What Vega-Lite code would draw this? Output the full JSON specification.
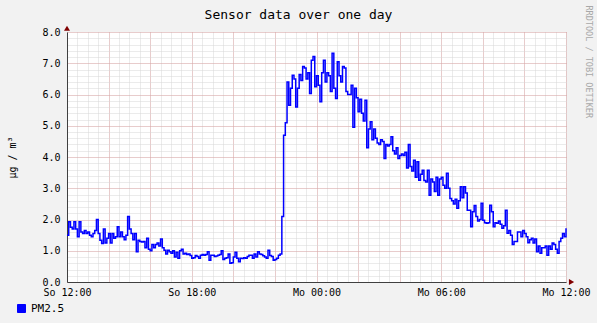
{
  "$schema": "https://vega.github.io/schema/vega-lite/v6.json",
  "width": 499,
  "height": 250,
  "autosize": {"type": "none"},
  "padding": {"left": 67, "top": 32, "right": 31, "bottom": 41},
  "background": "#F2F2F2",
  "config": {"view": {"fill": "white", "stroke": null}, "font": "DejaVu Sans Mono"},
  "title": {"text": "Sensor data over one day", "font": "DejaVu Sans Mono", "fontSize": 13, "fontWeight": "normal", "color": "black", "anchor": "middle", "dx": -18, "offset": -17},
  "data": {"values": [
    {"t":"2024-01-07T12:00","v":1.5},{"t":"2024-01-07T12:05","v":1.93},{"t":"2024-01-07T12:10","v":1.75},{"t":"2024-01-07T12:15","v":1.7},{"t":"2024-01-07T12:20","v":1.93},{"t":"2024-01-07T12:25","v":1.7},{"t":"2024-01-07T12:30","v":1.45},{"t":"2024-01-07T12:35","v":1.93},{"t":"2024-01-07T12:40","v":1.6},{"t":"2024-01-07T12:45","v":1.55},{"t":"2024-01-07T12:50","v":1.65},{"t":"2024-01-07T12:55","v":1.55},
    {"t":"2024-01-07T13:00","v":1.6},{"t":"2024-01-07T13:05","v":1.5},{"t":"2024-01-07T13:10","v":1.45},{"t":"2024-01-07T13:15","v":1.55},{"t":"2024-01-07T13:20","v":1.65},{"t":"2024-01-07T13:25","v":2.0},{"t":"2024-01-07T13:30","v":1.55},{"t":"2024-01-07T13:35","v":1.34},{"t":"2024-01-07T13:40","v":1.23},{"t":"2024-01-07T13:45","v":1.7},{"t":"2024-01-07T13:50","v":1.25},{"t":"2024-01-07T13:55","v":1.4},
    {"t":"2024-01-07T14:00","v":1.55},{"t":"2024-01-07T14:05","v":1.25},{"t":"2024-01-07T14:10","v":1.55},{"t":"2024-01-07T14:15","v":1.4},{"t":"2024-01-07T14:20","v":1.45},{"t":"2024-01-07T14:25","v":1.77},{"t":"2024-01-07T14:30","v":1.45},{"t":"2024-01-07T14:35","v":1.6},{"t":"2024-01-07T14:40","v":1.45},{"t":"2024-01-07T14:45","v":1.35},{"t":"2024-01-07T14:50","v":1.5},{"t":"2024-01-07T14:55","v":2.1},
    {"t":"2024-01-07T15:00","v":1.7},{"t":"2024-01-07T15:05","v":1.55},{"t":"2024-01-07T15:10","v":1.35},{"t":"2024-01-07T15:15","v":1.55},{"t":"2024-01-07T15:20","v":0.97},{"t":"2024-01-07T15:25","v":1.34},{"t":"2024-01-07T15:30","v":1.3},{"t":"2024-01-07T15:35","v":1.28},{"t":"2024-01-07T15:40","v":1.3},{"t":"2024-01-07T15:45","v":1.1},{"t":"2024-01-07T15:50","v":1.4},{"t":"2024-01-07T15:55","v":1.05},
    {"t":"2024-01-07T16:00","v":1.0},{"t":"2024-01-07T16:05","v":1.2},{"t":"2024-01-07T16:10","v":1.1},{"t":"2024-01-07T16:15","v":1.2},{"t":"2024-01-07T16:20","v":1.25},{"t":"2024-01-07T16:25","v":1.15},{"t":"2024-01-07T16:30","v":1.38},{"t":"2024-01-07T16:35","v":1.1},{"t":"2024-01-07T16:40","v":1.02},{"t":"2024-01-07T16:45","v":0.9},{"t":"2024-01-07T16:50","v":1.02},{"t":"2024-01-07T16:55","v":0.97},
    {"t":"2024-01-07T17:00","v":0.92},{"t":"2024-01-07T17:05","v":1.0},{"t":"2024-01-07T17:10","v":0.8},{"t":"2024-01-07T17:15","v":0.95},{"t":"2024-01-07T17:20","v":0.76},{"t":"2024-01-07T17:25","v":1.0},{"t":"2024-01-07T17:30","v":1.05},{"t":"2024-01-07T17:35","v":0.9},{"t":"2024-01-07T17:40","v":0.92},{"t":"2024-01-07T17:45","v":0.88},{"t":"2024-01-07T17:50","v":0.9},{"t":"2024-01-07T17:55","v":0.85},
    {"t":"2024-01-07T18:00","v":0.76},{"t":"2024-01-07T18:05","v":0.78},{"t":"2024-01-07T18:10","v":0.85},{"t":"2024-01-07T18:15","v":0.82},{"t":"2024-01-07T18:20","v":0.76},{"t":"2024-01-07T18:25","v":0.86},{"t":"2024-01-07T18:30","v":0.88},{"t":"2024-01-07T18:35","v":0.86},{"t":"2024-01-07T18:40","v":0.88},{"t":"2024-01-07T18:45","v":0.97},{"t":"2024-01-07T18:50","v":0.7},{"t":"2024-01-07T18:55","v":0.86},
    {"t":"2024-01-07T19:00","v":0.86},{"t":"2024-01-07T19:05","v":0.82},{"t":"2024-01-07T19:10","v":0.83},{"t":"2024-01-07T19:15","v":0.86},{"t":"2024-01-07T19:20","v":0.88},{"t":"2024-01-07T19:25","v":1.0},{"t":"2024-01-07T19:30","v":0.72},{"t":"2024-01-07T19:35","v":0.76},{"t":"2024-01-07T19:40","v":0.78},{"t":"2024-01-07T19:45","v":0.9},{"t":"2024-01-07T19:50","v":0.6},{"t":"2024-01-07T19:55","v":0.62},
    {"t":"2024-01-07T20:00","v":0.8},{"t":"2024-01-07T20:05","v":0.95},{"t":"2024-01-07T20:10","v":0.76},{"t":"2024-01-07T20:15","v":0.65},{"t":"2024-01-07T20:20","v":0.76},{"t":"2024-01-07T20:25","v":0.75},{"t":"2024-01-07T20:30","v":0.78},{"t":"2024-01-07T20:35","v":0.76},{"t":"2024-01-07T20:40","v":0.82},{"t":"2024-01-07T20:45","v":0.86},{"t":"2024-01-07T20:50","v":0.86},{"t":"2024-01-07T20:55","v":0.76},
    {"t":"2024-01-07T21:00","v":0.9},{"t":"2024-01-07T21:05","v":0.8},{"t":"2024-01-07T21:10","v":0.97},{"t":"2024-01-07T21:15","v":0.9},{"t":"2024-01-07T21:20","v":0.88},{"t":"2024-01-07T21:25","v":0.84},{"t":"2024-01-07T21:30","v":0.8},{"t":"2024-01-07T21:35","v":0.76},{"t":"2024-01-07T21:40","v":1.02},{"t":"2024-01-07T21:45","v":0.85},{"t":"2024-01-07T21:50","v":0.82},{"t":"2024-01-07T21:55","v":0.7},
    {"t":"2024-01-07T22:00","v":0.72},{"t":"2024-01-07T22:05","v":0.76},{"t":"2024-01-07T22:10","v":0.86},{"t":"2024-01-07T22:15","v":0.9},{"t":"2024-01-07T22:20","v":2.1},{"t":"2024-01-07T22:25","v":4.7},{"t":"2024-01-07T22:30","v":5.1},{"t":"2024-01-07T22:35","v":6.4},{"t":"2024-01-07T22:40","v":5.66},{"t":"2024-01-07T22:45","v":6.2},{"t":"2024-01-07T22:50","v":6.62},{"t":"2024-01-07T22:55","v":6.5},
    {"t":"2024-01-07T23:00","v":5.6},{"t":"2024-01-07T23:05","v":6.2},{"t":"2024-01-07T23:10","v":6.64},{"t":"2024-01-07T23:15","v":6.45},{"t":"2024-01-07T23:20","v":6.9},{"t":"2024-01-07T23:25","v":6.85},{"t":"2024-01-07T23:30","v":6.5},{"t":"2024-01-07T23:35","v":6.7},{"t":"2024-01-07T23:40","v":6.03},{"t":"2024-01-07T23:45","v":7.1},{"t":"2024-01-07T23:50","v":7.22},{"t":"2024-01-07T23:55","v":6.25},
    {"t":"2024-01-08T00:00","v":6.6},{"t":"2024-01-08T00:05","v":6.3},{"t":"2024-01-08T00:10","v":5.77},{"t":"2024-01-08T00:15","v":6.7},{"t":"2024-01-08T00:20","v":7.1},{"t":"2024-01-08T00:25","v":6.4},{"t":"2024-01-08T00:30","v":6.7},{"t":"2024-01-08T00:35","v":6.6},{"t":"2024-01-08T00:40","v":6.1},{"t":"2024-01-08T00:45","v":7.32},{"t":"2024-01-08T00:50","v":6.2},{"t":"2024-01-08T00:55","v":5.87},
    {"t":"2024-01-08T01:00","v":7.05},{"t":"2024-01-08T01:05","v":6.6},{"t":"2024-01-08T01:10","v":6.4},{"t":"2024-01-08T01:15","v":6.9},{"t":"2024-01-08T01:20","v":6.85},{"t":"2024-01-08T01:25","v":6.1},{"t":"2024-01-08T01:30","v":6.0},{"t":"2024-01-08T01:35","v":6.0},{"t":"2024-01-08T01:40","v":6.3},{"t":"2024-01-08T01:45","v":4.95},{"t":"2024-01-08T01:50","v":6.2},{"t":"2024-01-08T01:55","v":5.9},
    {"t":"2024-01-08T02:00","v":5.45},{"t":"2024-01-08T02:05","v":5.85},{"t":"2024-01-08T02:10","v":5.4},{"t":"2024-01-08T02:15","v":5.15},{"t":"2024-01-08T02:20","v":5.82},{"t":"2024-01-08T02:25","v":4.3},{"t":"2024-01-08T02:30","v":4.9},{"t":"2024-01-08T02:35","v":5.13},{"t":"2024-01-08T02:40","v":4.55},{"t":"2024-01-08T02:45","v":4.9},{"t":"2024-01-08T02:50","v":4.6},{"t":"2024-01-08T02:55","v":4.45},
    {"t":"2024-01-08T03:00","v":4.4},{"t":"2024-01-08T03:05","v":4.55},{"t":"2024-01-08T03:10","v":4.5},{"t":"2024-01-08T03:15","v":3.95},{"t":"2024-01-08T03:20","v":4.4},{"t":"2024-01-08T03:25","v":4.35},{"t":"2024-01-08T03:30","v":4.4},{"t":"2024-01-08T03:35","v":4.65},{"t":"2024-01-08T03:40","v":4.2},{"t":"2024-01-08T03:45","v":4.1},{"t":"2024-01-08T03:50","v":4.3},{"t":"2024-01-08T03:55","v":3.95},
    {"t":"2024-01-08T04:00","v":4.05},{"t":"2024-01-08T04:05","v":4.1},{"t":"2024-01-08T04:10","v":4.05},{"t":"2024-01-08T04:15","v":4.15},{"t":"2024-01-08T04:20","v":3.65},{"t":"2024-01-08T04:25","v":4.4},{"t":"2024-01-08T04:30","v":3.7},{"t":"2024-01-08T04:35","v":3.55},{"t":"2024-01-08T04:40","v":3.9},{"t":"2024-01-08T04:45","v":3.35},{"t":"2024-01-08T04:50","v":3.85},{"t":"2024-01-08T04:55","v":3.26},
    {"t":"2024-01-08T05:00","v":3.45},{"t":"2024-01-08T05:05","v":3.58},{"t":"2024-01-08T05:10","v":3.25},{"t":"2024-01-08T05:15","v":3.2},{"t":"2024-01-08T05:20","v":3.58},{"t":"2024-01-08T05:25","v":2.78},{"t":"2024-01-08T05:30","v":3.3},{"t":"2024-01-08T05:35","v":3.2},{"t":"2024-01-08T05:40","v":2.9},{"t":"2024-01-08T05:45","v":3.35},{"t":"2024-01-08T05:50","v":2.78},{"t":"2024-01-08T05:55","v":3.3},
    {"t":"2024-01-08T06:00","v":3.35},{"t":"2024-01-08T06:05","v":3.1},{"t":"2024-01-08T06:10","v":3.0},{"t":"2024-01-08T06:15","v":3.48},{"t":"2024-01-08T06:20","v":3.0},{"t":"2024-01-08T06:25","v":2.67},{"t":"2024-01-08T06:30","v":2.6},{"t":"2024-01-08T06:35","v":2.5},{"t":"2024-01-08T06:40","v":2.65},{"t":"2024-01-08T06:45","v":2.36},{"t":"2024-01-08T06:50","v":2.6},{"t":"2024-01-08T06:55","v":3.05},
    {"t":"2024-01-08T07:00","v":2.7},{"t":"2024-01-08T07:05","v":3.05},{"t":"2024-01-08T07:10","v":2.85},{"t":"2024-01-08T07:15","v":2.3},{"t":"2024-01-08T07:20","v":2.3},{"t":"2024-01-08T07:25","v":1.77},{"t":"2024-01-08T07:30","v":2.25},{"t":"2024-01-08T07:35","v":2.45},{"t":"2024-01-08T07:40","v":2.1},{"t":"2024-01-08T07:45","v":1.95},{"t":"2024-01-08T07:50","v":2.0},{"t":"2024-01-08T07:55","v":2.52},
    {"t":"2024-01-08T08:00","v":1.98},{"t":"2024-01-08T08:05","v":1.9},{"t":"2024-01-08T08:10","v":1.88},{"t":"2024-01-08T08:15","v":1.9},{"t":"2024-01-08T08:20","v":2.46},{"t":"2024-01-08T08:25","v":2.25},{"t":"2024-01-08T08:30","v":1.77},{"t":"2024-01-08T08:35","v":1.9},{"t":"2024-01-08T08:40","v":1.88},{"t":"2024-01-08T08:45","v":1.95},{"t":"2024-01-08T08:50","v":1.85},{"t":"2024-01-08T08:55","v":1.72},
    {"t":"2024-01-08T09:00","v":1.8},{"t":"2024-01-08T09:05","v":2.3},{"t":"2024-01-08T09:10","v":1.56},{"t":"2024-01-08T09:15","v":1.65},{"t":"2024-01-08T09:20","v":1.5},{"t":"2024-01-08T09:25","v":1.2},{"t":"2024-01-08T09:30","v":1.3},{"t":"2024-01-08T09:35","v":1.3},{"t":"2024-01-08T09:40","v":1.6},{"t":"2024-01-08T09:45","v":1.6},{"t":"2024-01-08T09:50","v":1.45},{"t":"2024-01-08T09:55","v":1.65},
    {"t":"2024-01-08T10:00","v":1.55},{"t":"2024-01-08T10:05","v":1.45},{"t":"2024-01-08T10:10","v":1.26},{"t":"2024-01-08T10:15","v":1.35},{"t":"2024-01-08T10:20","v":1.4},{"t":"2024-01-08T10:25","v":1.25},{"t":"2024-01-08T10:30","v":1.38},{"t":"2024-01-08T10:35","v":0.97},{"t":"2024-01-08T10:40","v":1.15},{"t":"2024-01-08T10:45","v":0.92},{"t":"2024-01-08T10:50","v":1.1},{"t":"2024-01-08T10:55","v":1.1},
    {"t":"2024-01-08T11:00","v":1.15},{"t":"2024-01-08T11:05","v":0.86},{"t":"2024-01-08T11:10","v":1.15},{"t":"2024-01-08T11:15","v":1.05},{"t":"2024-01-08T11:20","v":1.25},{"t":"2024-01-08T11:25","v":1.2},{"t":"2024-01-08T11:30","v":1.05},{"t":"2024-01-08T11:35","v":0.92},{"t":"2024-01-08T11:40","v":1.3},{"t":"2024-01-08T11:45","v":1.4},{"t":"2024-01-08T11:50","v":1.55},{"t":"2024-01-08T11:55","v":1.45},
    {"t":"2024-01-08T12:00","v":1.72}
  ]},
  "layer": [
    {
      "mark": {"type": "line", "opacity": 0},
      "encoding": {
        "x": {"field": "t", "type": "temporal",
          "scale": {"domain": [{"year": 2024, "month": 1, "date": 7, "hours": 12}, {"year": 2024, "month": 1, "date": 8, "hours": 12}], "nice": false},
          "axis": {"orient": "bottom", "title": null, "labels": false, "ticks": false, "domain": false, "grid": true, "gridColor": "#d6d6d6", "gridDash": [1, 1], "gridWidth": 1, "tickCount": 48}},
        "y": {"field": "v", "type": "quantitative",
          "scale": {"domain": [0, 8], "nice": false, "zero": false},
          "axis": {"orient": "left", "title": null, "labels": false, "ticks": false, "domain": false, "grid": true, "gridColor": "#d6d6d6", "gridDash": [1, 1], "gridWidth": 1, "tickCount": 40}}
      }
    },
    {
      "mark": {"type": "line", "opacity": 0},
      "encoding": {
        "x": {"field": "t", "type": "temporal",
          "scale": {"domain": [{"year": 2024, "month": 1, "date": 7, "hours": 12}, {"year": 2024, "month": 1, "date": 8, "hours": 12}], "nice": false},
          "axis": {"orient": "bottom", "title": null, "labels": false, "ticks": false, "domain": false, "grid": true, "gridColor": "#DE5050", "gridOpacity": 0.4, "gridDash": [1, 1], "gridWidth": 1,
            "values": [
              {"year": 2024, "month": 1, "date": 7, "hours": 12}, {"year": 2024, "month": 1, "date": 7, "hours": 14}, {"year": 2024, "month": 1, "date": 7, "hours": 16},
              {"year": 2024, "month": 1, "date": 7, "hours": 18}, {"year": 2024, "month": 1, "date": 7, "hours": 20}, {"year": 2024, "month": 1, "date": 7, "hours": 22},
              {"year": 2024, "month": 1, "date": 8, "hours": 0}, {"year": 2024, "month": 1, "date": 8, "hours": 2}, {"year": 2024, "month": 1, "date": 8, "hours": 4},
              {"year": 2024, "month": 1, "date": 8, "hours": 6}, {"year": 2024, "month": 1, "date": 8, "hours": 8}, {"year": 2024, "month": 1, "date": 8, "hours": 10},
              {"year": 2024, "month": 1, "date": 8, "hours": 12}]}},
        "y": {"field": "v", "type": "quantitative",
          "scale": {"domain": [0, 8], "nice": false, "zero": false},
          "axis": {"orient": "left", "title": "µg / m³", "titleFont": "DejaVu Sans Mono", "titleFontSize": 10, "titleFontWeight": "normal", "titleColor": "black", "titleX": -55, "titleY": 125, "titleBaseline": "middle", "titleAngle": -90,
            "labels": true, "labelFont": "DejaVu Sans Mono", "labelFontSize": 10, "labelColor": "black", "labelPadding": 7, "format": ".1f",
            "ticks": false, "tickSize": 0, "domain": true, "domainColor": "#404040", "domainWidth": 1,
            "grid": true, "gridColor": "#DE5050", "gridOpacity": 0.4, "gridDash": [1, 1], "gridWidth": 1, "tickCount": 8}}
      }
    },
    {
      "mark": {"type": "line", "interpolate": "step-after", "strokeWidth": 1.5},
      "encoding": {
        "x": {"field": "t", "type": "temporal",
          "scale": {"domain": [{"year": 2024, "month": 1, "date": 7, "hours": 12}, {"year": 2024, "month": 1, "date": 8, "hours": 12}], "nice": false},
          "axis": {"orient": "bottom", "title": null, "grid": false, "ticks": false, "tickSize": 0, "domain": true, "domainColor": "#404040", "domainWidth": 1,
            "labelFont": "DejaVu Sans Mono", "labelFontSize": 10, "labelColor": "black", "labelPadding": 5, "labelFlush": false, "labelOverlap": false,
            "tickCount": 4,
            "labelExpr": "(day(datum.value) == 0 ? 'So ' : 'Mo ') + timeFormat(datum.value, '%H:%M')"}},
        "y": {"field": "v", "type": "quantitative", "scale": {"domain": [0, 8], "nice": false, "zero": false}, "axis": null},
        "color": {"datum": "PM2.5", "scale": {"range": ["#0000ff"]},
          "legend": {"orient": "none", "legendX": -51, "legendY": 271, "padding": 0, "title": null,
            "labelFont": "DejaVu Sans Mono", "labelFontSize": 11, "labelColor": "black", "labelOffset": 4,
            "symbolType": "square", "symbolSize": 64, "symbolFillColor": "#0000ff", "symbolStrokeColor": "black", "symbolStrokeWidth": 1}}
      }
    },
    {
      "mark": {"type": "line", "opacity": 0},
      "encoding": {
        "x": {"field": "t", "type": "temporal", "scale": {"domain": [{"year": 2024, "month": 1, "date": 7, "hours": 12}, {"year": 2024, "month": 1, "date": 8, "hours": 12}], "nice": false}, "axis": null},
        "y": {"field": "v", "type": "quantitative", "scale": {"domain": [0, 8], "nice": false, "zero": false},
          "axis": {"orient": "right", "title": "RRDTOOL / TOBI OETIKER", "titleFont": "DejaVu Sans Mono", "titleFontSize": 8.5, "titleFontWeight": "normal", "titleColor": "#a8a8a8",
            "titleAngle": 90, "titleX": 22, "titleY": -27, "titleAlign": "left", "titleBaseline": "middle",
            "labels": false, "ticks": false, "domain": false, "grid": false}}
      }
    },
    {
      "data": {"values": [{}]},
      "mark": {"type": "point", "shape": "triangle-up", "filled": true, "color": "#800000", "size": 36, "opacity": 1},
      "encoding": {
        "x": {"datum": {"year": 2024, "month": 1, "date": 7, "hours": 12}, "type": "temporal", "axis": null},
        "y": {"datum": 8.12, "type": "quantitative", "axis": null}
      }
    },
    {
      "data": {"values": [{}]},
      "mark": {"type": "point", "shape": "triangle-right", "filled": true, "color": "#800000", "size": 36, "opacity": 1},
      "encoding": {
        "x": {"datum": {"year": 2024, "month": 1, "date": 8, "hours": 12, "minutes": 16}, "type": "temporal", "axis": null},
        "y": {"datum": 0, "type": "quantitative", "axis": null}
      }
    }
  ],
  "resolve": {"axis": {"x": "independent", "y": "independent"}}
}
